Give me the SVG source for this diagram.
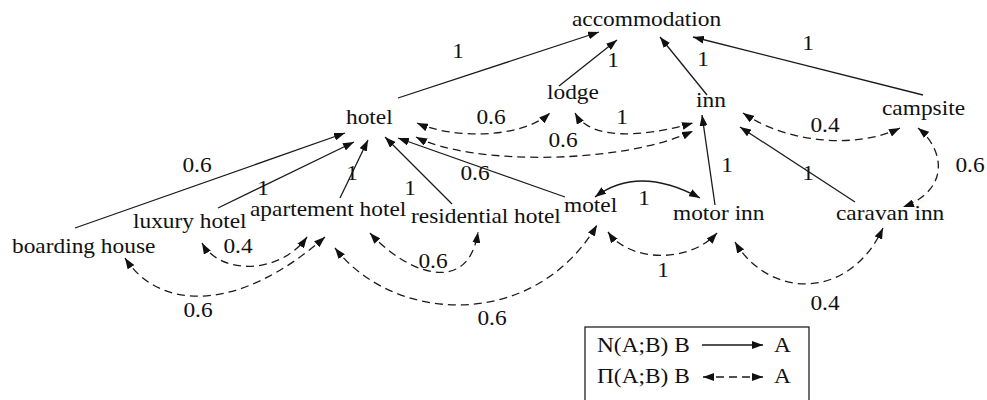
<svg xmlns="http://www.w3.org/2000/svg" width="987" height="400" viewBox="0 0 987 400">
  <style>
    text { font-family: "Liberation Serif", "DejaVu Serif", serif; font-size: 20.5px; fill: #111; }
    .w { text-anchor: middle; }
    .e { fill: none; stroke: #1a1a1a; stroke-width: 1.3; }
    .nec { marker-end: url(#tip); }
    .pos { stroke-dasharray: 8 5; marker-start: url(#tip); marker-end: url(#tip); }
    .both { marker-start: url(#tip); marker-end: url(#tip); }
  </style>
  <defs>
    <marker id="tip" markerUnits="userSpaceOnUse" markerWidth="11" markerHeight="8" refX="11" refY="4" orient="auto-start-reverse">
      <path d="M0,0 L11,4 L0,8 z" fill="#111"/>
    </marker>
  </defs>
  <rect width="987" height="400" fill="#fff"/>

  <!-- connectors -->
  <g id="connectors">
    <!-- necessity links (solid) -->
    <line class="e nec" x1="398" y1="98" x2="599" y2="32"/>
    <line class="e nec" x1="559" y1="86" x2="617" y2="40"/>
    <line class="e nec" x1="707" y1="95" x2="660" y2="37"/>
    <line class="e nec" x1="923" y1="95" x2="693" y2="37"/>
    <line class="e nec" x1="75" y1="228" x2="345" y2="133"/>
    <line class="e nec" x1="218" y1="208" x2="354" y2="142"/>
    <line class="e nec" x1="340" y1="198" x2="368" y2="140"/>
    <line class="e nec" x1="452" y1="204" x2="385" y2="137"/>
    <line class="e nec" x1="565" y1="197" x2="398" y2="138"/>
    <line class="e nec" x1="715" y1="205" x2="702" y2="115"/>
    <line class="e nec" x1="855" y1="202" x2="740" y2="127"/>
    <path class="e both" d="M595,197 Q638.5,164.5 700,198"/>

    <!-- possibility links (dashed) -->
    <path class="e pos" d="M417,123 C450,138 520,140 550,113"/>
    <path class="e pos" d="M575,113 C590,140 640,138 693,123"/>
    <path class="e pos" d="M416,137 C470,165 620,165 693,131"/>
    <path class="e pos" d="M743,113 C790,145 860,148 900,128"/>
    <path class="e pos" d="M918,128 C945,150 950,190 903,207"/>
    <path class="e pos" d="M735,242 C770,300 850,300 883,228"/>
    <path class="e pos" d="M608,232 C630,263 690,263 717,233"/>
    <path class="e pos" d="M202,243 C220,275 280,275 307,237"/>
    <path class="e pos" d="M125,258 C160,312 240,312 325,237"/>
    <path class="e pos" d="M370,233 C405,272 468,298 478,232"/>
    <path class="e pos" d="M335,248 C395,325 535,330 597,225"/>
  </g>

  <!-- connector weights (glyphs widened by 1.14) -->
  <g id="weights">
    <text class="w" transform="matrix(1.14 0 0 1 458 58)">1</text>
    <text class="w" transform="matrix(1.14 0 0 1 613 67)">1</text>
    <text class="w" transform="matrix(1.14 0 0 1 703 66)">1</text>
    <text class="w" transform="matrix(1.14 0 0 1 808 50)">1</text>
    <text class="w" transform="matrix(1.14 0 0 1 491 124)">0.6</text>
    <text class="w" transform="matrix(1.14 0 0 1 622 124)">1</text>
    <text class="w" transform="matrix(1.14 0 0 1 563 147)">0.6</text>
    <text class="w" transform="matrix(1.14 0 0 1 825 132)">0.4</text>
    <text class="w" transform="matrix(1.14 0 0 1 970 172)">0.6</text>
    <text class="w" transform="matrix(1.14 0 0 1 808 180)">1</text>
    <text class="w" transform="matrix(1.14 0 0 1 727 172)">1</text>
    <text class="w" transform="matrix(1.14 0 0 1 825 310)">0.4</text>
    <text class="w" transform="matrix(1.14 0 0 1 197 172)">0.6</text>
    <text class="w" transform="matrix(1.14 0 0 1 263 195)">1</text>
    <text class="w" transform="matrix(1.14 0 0 1 352 180)">1</text>
    <text class="w" transform="matrix(1.14 0 0 1 410 195)">1</text>
    <text class="w" transform="matrix(1.14 0 0 1 475 180)">0.6</text>
    <text class="w" transform="matrix(1.14 0 0 1 644 205)">1</text>
    <text class="w" transform="matrix(1.14 0 0 1 663 277)">1</text>
    <text class="w" transform="matrix(1.14 0 0 1 238 253)">0.4</text>
    <text class="w" transform="matrix(1.14 0 0 1 198 317)">0.6</text>
    <text class="w" transform="matrix(1.14 0 0 1 433 268)">0.6</text>
    <text class="w" transform="matrix(1.14 0 0 1 492 325)">0.6</text>
  </g>

  <!-- nodes -->
  <g id="accommodation"><text transform="matrix(1.14 0 0 1 572 26)">accommodation</text></g>
  <g id="hotel"><text transform="matrix(1.14 0 0 1 346 124)">hotel</text></g>
  <g id="lodge"><text transform="matrix(1.14 0 0 1 547 99)">lodge</text></g>
  <g id="inn"><text transform="matrix(1.14 0 0 1 696 107)">inn</text></g>
  <g id="campsite"><text transform="matrix(1.14 0 0 1 882 115)">campsite</text></g>
  <g id="boarding-house"><text transform="matrix(1.14 0 0 1 12 253)">boarding house</text></g>
  <g id="luxury-hotel"><text transform="matrix(1.14 0 0 1 133 228)">luxury hotel</text></g>
  <g id="apartement-hotel"><text transform="matrix(1.14 0 0 1 250 216)">apartement hotel</text></g>
  <g id="residential-hotel"><text transform="matrix(1.14 0 0 1 411 223)">residential hotel</text></g>
  <g id="motel"><text transform="matrix(1.14 0 0 1 564 212)">motel</text></g>
  <g id="motor-inn"><text transform="matrix(1.14 0 0 1 673 220)">motor inn</text></g>
  <g id="caravan-inn"><text transform="matrix(1.14 0 0 1 836 220)">caravan inn</text></g>

  <!-- legend -->
  <g id="legend">
    <rect x="585" y="327" width="224" height="90" fill="none" stroke="#222" stroke-width="1.3"/>
    <text transform="matrix(1.14 0 0 1 597 352)">N(A;B) B</text>
    <line class="e nec" x1="702" y1="345" x2="763" y2="345"/>
    <text transform="matrix(1.14 0 0 1 774 352)">A</text>
    <text transform="matrix(1.14 0 0 1 597 383)">Π(A;B) B</text>
    <line class="e pos" x1="703" y1="377" x2="763" y2="377"/>
    <text transform="matrix(1.14 0 0 1 774 383)">A</text>
  </g>
</svg>
